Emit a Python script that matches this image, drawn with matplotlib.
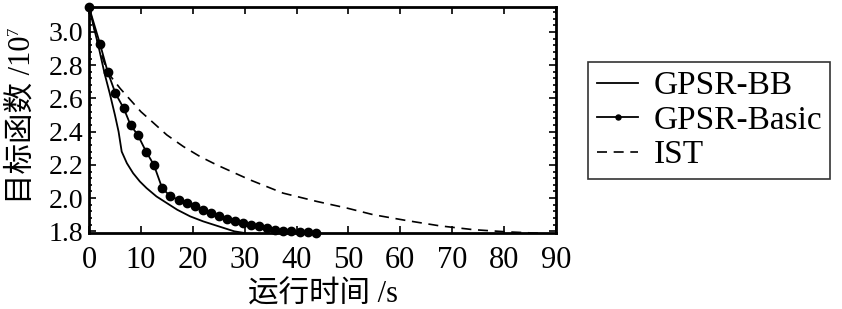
import matplotlib
matplotlib.use("Agg")
import matplotlib.pyplot as plt
from matplotlib.ticker import MultipleLocator

plt.rcParams['font.family'] = ['Liberation Serif', 'Noto Sans CJK SC']

# GPSR-BB (solid)
bb_t = [0, 1, 2, 3, 4, 5, 5.7, 6.3, 7.3, 8.5, 9.8, 11.1, 13, 15, 17, 19.5, 22, 24, 26, 28, 30]
bb_v = [3.15, 3.02, 2.89, 2.75, 2.63, 2.50, 2.40, 2.28, 2.21, 2.15, 2.10, 2.06, 2.01, 1.97,
        1.93, 1.89, 1.86, 1.84, 1.82, 1.80, 1.79]

# GPSR-Basic (solid with dots)
basic_t = [0, 2.1, 3.6, 5.1, 6.7, 8.0, 9.4, 11.0, 12.5, 14.1, 15.7, 17.3, 18.9, 20.5, 22.0,
           23.6, 25.1, 26.6, 28.2, 29.7, 31.3, 32.8, 34.4, 35.9, 37.4, 38.9, 40.6, 42.2, 43.7]
basic_v = [3.15, 2.93, 2.76, 2.63, 2.54, 2.44, 2.38, 2.28, 2.20, 2.06, 2.01, 1.99, 1.97, 1.95,
           1.93, 1.91, 1.89, 1.875, 1.86, 1.85, 1.84, 1.83, 1.82, 1.81, 1.805, 1.80, 1.797,
           1.795, 1.793]

# IST (dashed)
ist_t = [0, 1, 2, 3, 4, 6, 8, 10, 11.8, 15, 18.2, 21.4, 24.6, 31.0, 37.4, 43.9, 49.7, 54.8,
         61.2, 67.6, 74.1, 80.5, 85.6, 87]
ist_v = [3.15, 3.02, 2.90, 2.81, 2.74, 2.66, 2.59, 2.52, 2.47, 2.38, 2.31, 2.25, 2.20, 2.11,
         2.03, 1.98, 1.94, 1.90, 1.865, 1.833, 1.81, 1.797, 1.79, 1.789]

xticks = [0, 10, 20, 30, 40, 50, 60, 70, 80, 90]
yticks = [1.8, 2.0, 2.2, 2.4, 2.6, 2.8, 3.0]

fig = plt.figure(figsize=(8.42, 3.09), dpi=100)
ax = fig.add_axes([89/842, 1-233/309, (556-89)/842, (233-7)/309])

l1, = ax.plot(bb_t, bb_v, color='black', lw=1.3, label='GPSR-BB')
l2, = ax.plot(basic_t, basic_v, color='black', lw=1.3, marker='o', markersize=6,
              label='GPSR-Basic', clip_on=False, zorder=5)
l3, = ax.plot(ist_t, ist_v, color='black', lw=1.2, ls=(0, (6, 4)), label='IST')

ax.set_xlim(0, 90)
ax.set_ylim(1.79, 3.15)
ax.set_xticks(xticks)
ax.set_yticks(yticks)
ax.set_yticklabels([f"{v:.1f}" for v in yticks])
ax.yaxis.set_minor_locator(MultipleLocator(0.04))
ax.tick_params(which='both', direction='in', top=True, right=True)
ax.tick_params(which='major', length=5, width=1.2)
ax.tick_params(which='minor', length=2.5, width=1.2)
ax.tick_params(axis='x', labelsize=22, pad=9)
ax.tick_params(axis='y', labelsize=20, pad=4)
for s in ax.spines.values():
    s.set_linewidth(2)

ax.set_xlabel('运行时间 /s', fontsize=22, labelpad=4)
ylab = ax.set_ylabel('目标函数 /10', fontsize=22, labelpad=9)

leg = fig.legend(handles=[l1, l2, l3], loc='center', bbox_to_anchor=(0.8426, 0.61),
                 fontsize=24, frameon=True, fancybox=False, edgecolor='black',
                 handlelength=1.25, handletextpad=0.45, labelspacing=0.12,
                 borderpad=0.25, markerscale=0.6)
leg.get_frame().set_linewidth(1.2)

# superscript exponent for the y label
fig.canvas.draw()
bb = ylab.get_window_extent()
fig.text(bb.x0 - 1, bb.y1 + 1, '7', fontsize=12, rotation=90,
         ha='left', va='bottom', transform=None)

fig.savefig('out.png', dpi=100)
